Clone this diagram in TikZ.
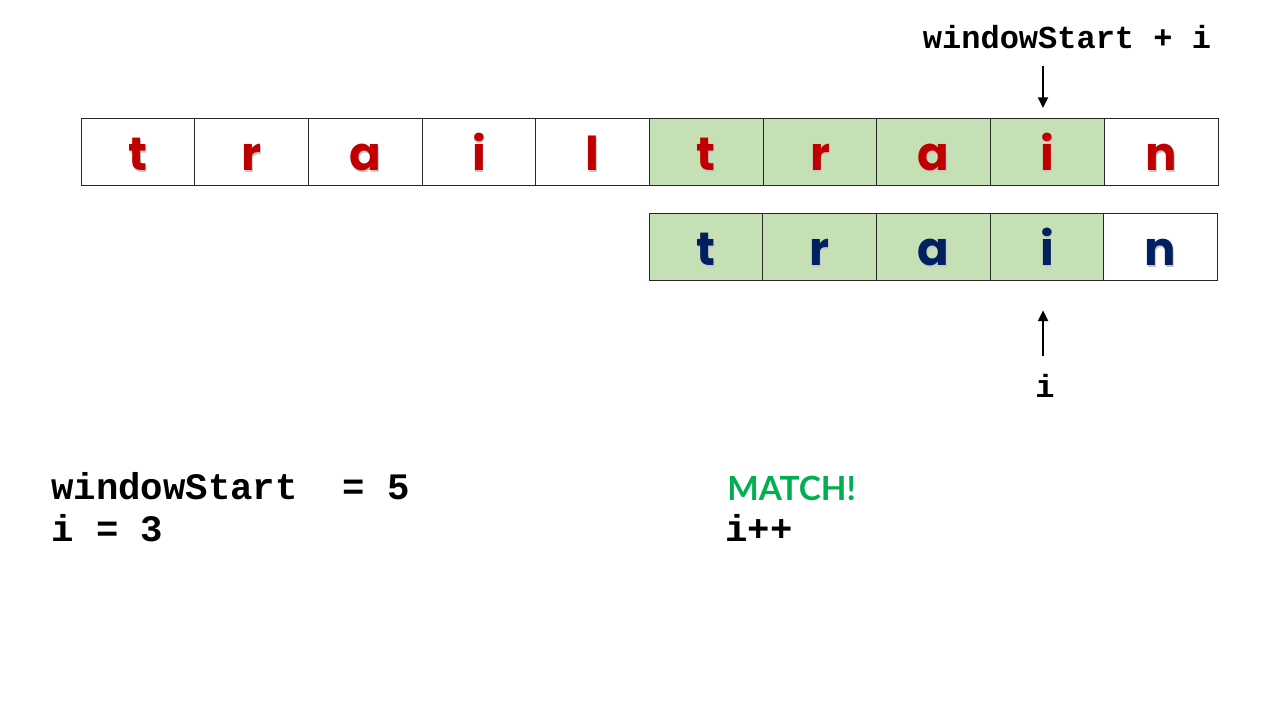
\documentclass[tikz,border=0pt]{standalone}
\usepackage{fontspec}
\usetikzlibrary{arrows.meta,positioning}
\newfontfamily\comicf{Poppins}
\newfontfamily\codef{Liberation Mono}
\newfontfamily\matchf{Lato}
\definecolor{wordred}{HTML}{C00000}
\definecolor{wordblue}{HTML}{002060}
\definecolor{hitfill}{HTML}{C5E0B4}
\definecolor{okgreen}{HTML}{00B050}
\newcommand{\shletter}[2]{\makebox[0pt]{\raisebox{-1.2pt}{\kern1.2pt\textcolor{black!22}{#2}}}\makebox[0pt]{\textcolor{#1}{#2}}}

\begin{document}
\begin{tikzpicture}[x=0.75pt,y=-0.75pt,
  cell/.style={draw=black!85,line width=0.6pt,minimum width=85.3pt,minimum height=50.25pt,
    inner sep=0pt,text height=29pt,text depth=0pt,font=\comicf\bfseries\fontsize{35}{35}\selectfont},
  code/.style={inner sep=0pt,anchor=base west,font=\codef\bfseries\fontsize{28}{28}\selectfont},
  ptr/.style={-{Triangle[length=8pt,width=7.5pt]},line width=1.5pt}]
  \useasboundingbox (0,0) rectangle (1280,720);
  % text row
  \foreach \ch/\fc [count=\i] in {t/white,r/white,a/white,i/white,l/white,t/hitfill,r/hitfill,a/hitfill,i/hitfill,n/white}
    \node[cell,fill=\fc] (top\i) at ({81+113.7*(\i-0.5)},151.5) {\shletter{wordred}{\ch}};
  % pattern row
  \foreach \ch/\fc [count=\i] in {t/hitfill,r/hitfill,a/hitfill,i/hitfill,n/white}
    \node[cell,fill=\fc] (bot\i) at ({649+113.7*(\i-0.5)},246.5) {\shletter{wordblue}{\ch}};
  % pointers
  \node[inner sep=0pt,anchor=base,font=\codef\bfseries\fontsize{24}{24}\selectfont] (idx) at (1067,49) {windowStart + i};
  \draw[ptr,shorten <=12pt,shorten >=7.5pt] (idx.south -| 1043,0) -- (1043,118);
  \coordinate (itail) at (1043,356);
  \draw[ptr,shorten >=22.5pt] (itail) -- (itail |- bot4.south);
  \node[inner sep=0pt,anchor=base,font=\codef\bfseries\fontsize{24}{24}\selectfont] (ilbl) at (1045,397) {i};
  % state
  \node[code] (ws) at (51,499) {windowStart\ \ = 5};
  \node[code] (iv) at (51,541) {i = 3};
  \node[inner sep=0pt,anchor=base west,text=okgreen,font=\matchf\bfseries\fontsize{25}{25}\selectfont] (match) at (727,500) {MATCH!};
  \node[code] (inc) at (725,541) {i++};
\end{tikzpicture}
\end{document}
